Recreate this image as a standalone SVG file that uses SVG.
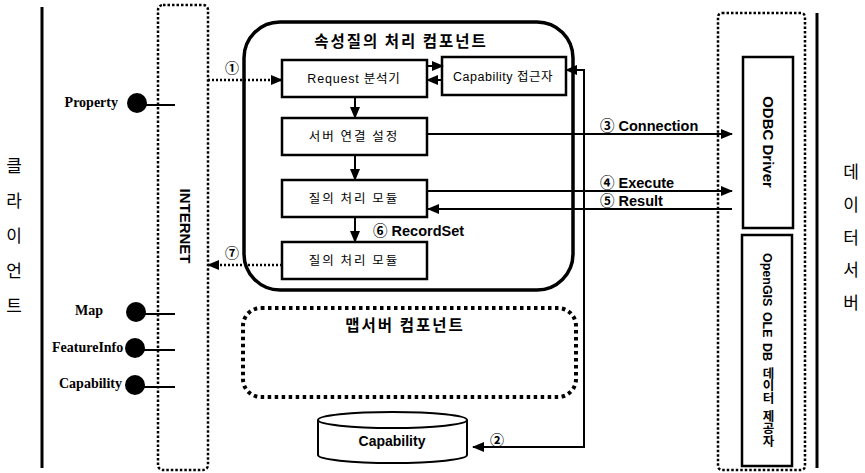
<svg xmlns="http://www.w3.org/2000/svg" width="865" height="473" viewBox="0 0 865 473">
<defs>
<marker id="ah" markerUnits="userSpaceOnUse" markerWidth="12" markerHeight="12" refX="11" refY="6" orient="auto-start-reverse" viewBox="0 0 12 12">
<path d="M0,1 L12,6 L0,11 Z" fill="#000"/>
</marker>
<style>
.kr{font-family:"Noto Sans CJK KR","Liberation Sans",sans-serif;fill:#000}
.sans{font-family:"Liberation Sans","Noto Sans CJK KR",sans-serif;fill:#000}
.serif{font-family:"Liberation Serif","Noto Sans CJK KR",serif;font-weight:bold;font-size:14px;fill:#000}
.box{fill:#fff;stroke:#000;stroke-width:2.5}
.ln{fill:none;stroke:#000;stroke-width:2}
.dot{fill:none;stroke:#000;stroke-width:2.5;stroke-dasharray:2.5 2}
.lbl{font-size:12.5px;text-anchor:middle}
.num{font-size:14.5px;font-weight:bold}
.circ{font-family:"Noto Sans CJK KR",sans-serif;font-size:14px;font-weight:bold;text-anchor:middle;fill:#000}
.side{font-size:17px;text-anchor:middle}
</style>
</defs>
<rect width="865" height="473" fill="#fff"/>

<g id="client">
<line x1="42" y1="7" x2="42" y2="468" stroke="#000" stroke-width="3"/>
<text class="kr side" x="14" y="172">클</text>
<text class="kr side" x="14" y="207">라</text>
<text class="kr side" x="14" y="242">이</text>
<text class="kr side" x="14" y="277">언</text>
<text class="kr side" x="14" y="312">트</text>
</g>

<g id="interfaces">
<line x1="137" y1="105" x2="175" y2="105" class="ln"/>
<circle cx="137" cy="103" r="10" fill="#000"/>
<text class="serif" x="118" y="107" text-anchor="end">Property</text>
<line x1="136" y1="314" x2="175" y2="314" class="ln"/>
<circle cx="136" cy="312" r="10" fill="#000"/>
<text class="serif" x="103" y="315" text-anchor="end">Map</text>
<line x1="135" y1="350" x2="175" y2="350" class="ln"/>
<text class="serif" x="52" y="352">FeatureInfo</text>
<circle cx="135" cy="348" r="10" fill="#000"/>
<line x1="135" y1="387" x2="175" y2="387" class="ln"/>
<circle cx="135" cy="385" r="10" fill="#000"/>
<text class="serif" x="122" y="388" text-anchor="end">Capability</text>
</g>

<g id="internet">
<rect x="158" y="5" width="50" height="465" rx="5" class="dot" stroke-width="3" stroke-dasharray="3 2"/>
<text class="sans" x="0" y="0" font-size="15" font-weight="bold" text-anchor="middle" transform="translate(180,226) rotate(90)">INTERNET</text>
</g>

<g id="query-component">
<rect x="244" y="22" width="329" height="268" rx="36" fill="none" stroke="#000" stroke-width="3.5"/>
<text class="kr" x="401" y="47" font-size="15.5" font-weight="bold" text-anchor="middle" letter-spacing="2">속성질의 처리 컴포넌트</text>
</g>

<g id="request-parser">
<rect x="282" y="60" width="145" height="37" class="box"/>
<text class="sans lbl" x="354" y="83" letter-spacing="0.8">Request 분석기</text>
</g>
<g id="capability-accessor">
<rect x="442" y="57" width="124" height="38" class="box"/>
<text class="sans lbl" x="503" y="81" letter-spacing="0.5">Capability 접근자</text>
</g>
<g id="server-connect">
<rect x="282" y="118" width="145" height="37" class="box"/>
<text class="kr lbl" x="354" y="141" letter-spacing="2">서버 연결 설정</text>
</g>
<g id="query-module-1">
<rect x="282" y="180" width="145" height="37" class="box"/>
<text class="kr lbl" x="354" y="203" letter-spacing="2">질의 처리 모듈</text>
</g>
<g id="query-module-2">
<rect x="282" y="242" width="145" height="37" class="box"/>
<text class="kr lbl" x="354" y="265" letter-spacing="2">질의 처리 모듈</text>
</g>

<g id="map-server">
<rect x="243" y="308" width="333" height="89" rx="18" fill="none" stroke="#000" stroke-width="4" stroke-dasharray="3.5 3.5"/>
<text class="kr" x="405" y="331" font-size="15.5" font-weight="bold" text-anchor="middle" letter-spacing="2">맵서버 컴포넌트</text>
</g>

<g id="capability-db">
<path d="M318,420 V455 A74.5,8 0 0 0 467,455 V420" fill="#fff" stroke="#000" stroke-width="2"/>
<ellipse cx="392.5" cy="420" rx="74.5" ry="8" fill="#fff" stroke="#000" stroke-width="2"/>
<text class="sans" x="392" y="446" font-size="14" font-weight="bold" text-anchor="middle">Capability</text>
</g>

<g id="data-server">
<rect x="718" y="13" width="87" height="457" rx="4" class="dot"/>
<line x1="817" y1="13" x2="817" y2="468" stroke="#000" stroke-width="3"/>
<text class="kr side" x="851" y="178">데</text>
<text class="kr side" x="851" y="211">이</text>
<text class="kr side" x="851" y="244">터</text>
<text class="kr side" x="851" y="276">서</text>
<text class="kr side" x="851" y="309">버</text>
</g>
<g id="odbc-driver">
<rect x="743" y="57" width="50" height="171" class="box"/>
<text class="sans" x="0" y="0" font-size="15" font-weight="bold" text-anchor="middle" transform="translate(763,142) rotate(90)">ODBC Driver</text>
</g>
<g id="ole-db-provider">
<rect x="742" y="235" width="50" height="231" class="box"/>
<text class="sans" x="767" y="350" font-size="12.5" font-weight="bold" text-anchor="middle" writing-mode="vertical-rl" word-spacing="2">OpenGIS OLE DB 데이터 제공자</text>
</g>

<g id="connectors">
<line x1="208" y1="80" x2="282" y2="80" stroke="#000" stroke-width="2.5" stroke-dasharray="2 2" marker-end="url(#ah)"/>
<text class="circ" x="232" y="73">①</text>
<line x1="282" y1="265" x2="208" y2="265" stroke="#000" stroke-width="2.5" stroke-dasharray="2 2" marker-end="url(#ah)"/>
<text class="circ" x="232" y="258">⑦</text>
<line x1="427" y1="66" x2="443" y2="66" class="ln" marker-end="url(#ah)"/>
<line x1="442" y1="80" x2="427" y2="80" class="ln" marker-end="url(#ah)"/>
<line x1="355" y1="97" x2="355" y2="118" class="ln" marker-end="url(#ah)"/>
<line x1="355" y1="155" x2="355" y2="180" class="ln" marker-end="url(#ah)"/>
<line x1="355" y1="217" x2="355" y2="242" class="ln" marker-end="url(#ah)"/>
<text class="sans num" x="373" y="236">⑥ RecordSet</text>
<path d="M473,447 H584 V70 H566" class="ln" marker-start="url(#ah)" marker-end="url(#ah)"/>
<text class="circ" x="497" y="445">②</text>
<line x1="427" y1="134" x2="732" y2="134" class="ln" marker-end="url(#ah)"/>
<text class="sans num" x="600" y="131">③ Connection</text>
<line x1="427" y1="191" x2="732" y2="191" class="ln" marker-end="url(#ah)"/>
<text class="sans num" x="600" y="188">④ Execute</text>
<line x1="732" y1="209" x2="428" y2="209" class="ln" marker-end="url(#ah)"/>
<text class="sans num" x="600" y="206">⑤ Result</text>
</g>
</svg>
